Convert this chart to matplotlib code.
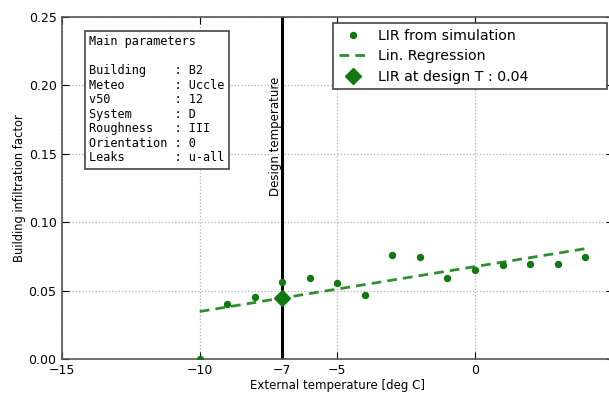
import matplotlib

matplotlib.use("Agg")

import matplotlib.pyplot as plt

# Data
temps = [-10, -9, -8, -7, -6, -5, -4, -3, -2, -1, 0, 1, 2, 3, 4]
lir = [0.0, 0.040, 0.0455, 0.0565, 0.0588, 0.0556, 0.0465, 0.0760, 0.0745,
       0.0592, 0.0650, 0.0687, 0.0692, 0.0697, 0.0745]
reg_x = [-10, 4]
reg_y = [0.0347, 0.0806]
design_t = -7
design_lir = 0.0442

xticks = [-15, -10, -7, -5, 0, 5]
yticks = [0.00, 0.05, 0.10, 0.15, 0.20, 0.25]

params = [
    ("Building", "B2"),
    ("Meteo", "Uccle"),
    ("v50", "12"),
    ("System", "D"),
    ("Roughness", "III"),
    ("Orientation", "0"),
    ("Leaks", "u-all"),
]

GREEN = "#127812"
REG = "#2f8f2f"

fig = plt.figure(figsize=(6.09, 3.94), dpi=100, facecolor="white")
ax = fig.add_axes([0.102, 0.089, 0.904, 0.868])
ax.set_axisbelow(True)

ax.plot(temps, lir, "o", color=GREEN, ms=4.3, mec=GREEN, label="LIR from simulation", zorder=3)
ax.plot(reg_x, reg_y, "--", color=REG, lw=2, dashes=(3.5, 2.2), label="Lin. Regression", zorder=2)
ax.plot([design_t], [design_lir], "D", color=GREEN, ms=8, mec=GREEN,
        label="LIR at design T : %.2f" % design_lir, zorder=4)
ax.axvline(design_t, color="black", lw=2.2, zorder=2.5)
ax.text(design_t - 0.02, 0.163, "Design temperature", rotation=90, ha="right", va="center",
        fontsize=8.5)

ax.set_xlim(-15, 5)
ax.set_ylim(0, 0.25)
ax.set_xticks(xticks)
ax.set_yticks(yticks)
ax.set_yticklabels(["%.2f" % v for v in yticks])
ax.tick_params(direction="in", length=5, labelsize=9, top=True, right=True, pad=4)
ax.grid(True, linestyle=":", color="#b0b0b0", lw=0.9)
for s in ax.spines.values():
    s.set_color("#555555")
    s.set_linewidth(1.2)

ax.set_xlabel("External temperature [deg C]", fontsize=8.5, labelpad=1)
ax.set_ylabel("Building infiltration factor", fontsize=8.3, labelpad=2)

w = max(len(k) for k, _ in params)
box_text = "Main parameters\n\n" + "\n".join("%-*s : %s" % (w, k, v) for k, v in params)
ax.text(0.049, 0.946, box_text, transform=ax.transAxes, family="DejaVu Sans Mono",
        fontsize=8.6, va="top", ha="left", linespacing=1.15,
        bbox=dict(boxstyle="square,pad=0.35", fc="white", ec="#444444", lw=1.2))

leg = ax.legend(loc="upper left", bbox_to_anchor=(0.492, 0.787, 0.497, 0.195), mode="expand",
                fontsize=10.2, numpoints=1, fancybox=False, framealpha=1, edgecolor="#444444",
                handlelength=2.0, borderpad=0.4, labelspacing=0.45, borderaxespad=0)
leg.get_frame().set_linewidth(1.2)

fig.savefig("out.png", dpi=100, facecolor="white")
